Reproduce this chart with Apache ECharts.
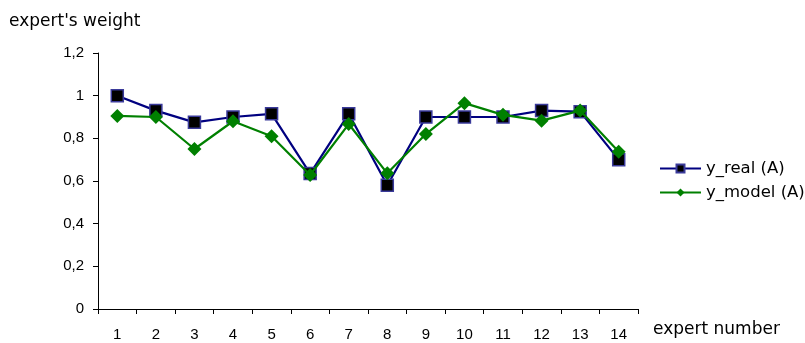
<!DOCTYPE html>
<html><head><meta charset="utf-8">
<script src="https://cdn.jsdelivr.net/npm/echarts@6/dist/echarts.min.js"></script>
<style>html,body{margin:0;padding:0;background:#fff}#c{width:805px;height:343px}</style>
</head><body><div id="c"></div>
<script>
var categories = ['1','2','3','4','5','6','7','8','9','10','11','12','13','14'];
var yReal = [1.0, 0.93, 0.875, 0.9, 0.915, 0.635, 0.915, 0.58, 0.9, 0.9, 0.9, 0.93, 0.925, 0.7];
var yModel = [0.905, 0.9, 0.75, 0.88, 0.81, 0.628, 0.867, 0.636, 0.82, 0.965, 0.91, 0.883, 0.93, 0.737];
var yTicks = {min: 0, max: 1.2, interval: 0.2};
var tickFont = 'Liberation Sans, Arial, sans-serif';
var nameFont = 'DejaVu Sans, sans-serif';
var chart = echarts.init(document.getElementById('c'));
chart.setOption({
  animation: false,
  backgroundColor: '#fff',
  grid: {left: 98, right: 167, top: 53, bottom: 34, containLabel: false},
  legend: {
    orient: 'vertical', left: 659, top: 160, padding: 0, itemWidth: 41, itemHeight: 10, itemGap: 7,
    textStyle: {fontFamily: nameFont, fontSize: 16.5, color: '#000'},
    data: ['y_real (A)', 'y_model (A)']
  },
  xAxis: {
    type: 'category', data: categories, boundaryGap: true,
    name: 'expert number', nameLocation: 'end', nameGap: 15,
    nameTextStyle: {fontFamily: nameFont, fontSize: 17, color: '#000', verticalAlign: 'top', padding: [12, 0, 0, 0]},
    axisLine: {lineStyle: {color: '#000', width: 1}},
    axisTick: {show: true, inside: false, length: 5, alignWithLabel: false, lineStyle: {color: '#000'}},
    axisLabel: {fontFamily: tickFont, fontSize: 15, color: '#000', margin: 18},
    splitLine: {show: false}
  },
  yAxis: {
    type: 'value', min: yTicks.min, max: yTicks.max, interval: yTicks.interval,
    name: "expert's weight", nameLocation: 'end', nameGap: 23,
    nameTextStyle: {fontFamily: nameFont, fontSize: 17, color: '#000', align: 'left', padding: [0, 0, 0, -89]},
    axisLine: {show: true, lineStyle: {color: '#000', width: 1}},
    axisTick: {show: true, inside: false, length: 5, lineStyle: {color: '#000'}},
    axisLabel: {fontFamily: tickFont, fontSize: 15, color: '#000', margin: 14,
      formatter: function (v) { return String(Math.round(v * 10) / 10).replace('.', ','); }},
    splitLine: {show: false}
  },
  series: [
    {
      name: 'y_real (A)', type: 'line', data: yReal,
      symbol: 'rect', symbolSize: 12,
      lineStyle: {color: '#000080', width: 2.2},
      itemStyle: {color: '#000000', borderColor: '#3a3a9a', borderWidth: 1.5},
      z: 2
    },
    {
      name: 'y_model (A)', type: 'line', data: yModel,
      symbol: 'diamond', symbolSize: 14,
      lineStyle: {color: '#008000', width: 2.2},
      itemStyle: {color: '#008000', borderColor: '#008000', borderWidth: 0},
      z: 3
    }
  ]
});
</script></body></html>
